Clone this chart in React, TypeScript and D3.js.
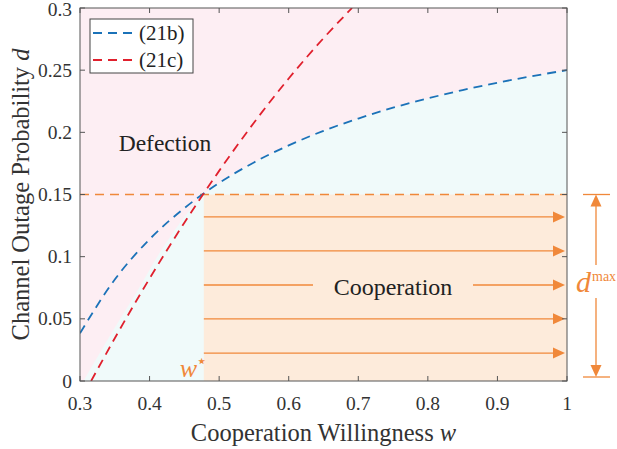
import React from "react";
import * as d3 from "d3";

const W = 617;
const H = 449;

// ---- data ----
const xTicks = [0.3, 0.4, 0.5, 0.6, 0.7, 0.8, 0.9, 1];
const yTicks = [0, 0.05, 0.1, 0.15, 0.2, 0.25, 0.3];
const xTickLabels = ["0.3", "0.4", "0.5", "0.6", "0.7", "0.8", "0.9", "1"];
const yTickLabels = ["0", "0.05", "0.1", "0.15", "0.2", "0.25", "0.3"];

// (21b) blue dashed curve
const curveB_w = [0.3, 0.35, 0.4, 0.45, 0.5, 0.55, 0.6, 0.65, 0.7, 0.75, 0.8, 0.85, 0.9, 0.95, 1.0];
const curveB_d = [0.0384, 0.0816, 0.114, 0.139, 0.1593, 0.1758, 0.1895, 0.2012, 0.2111, 0.2198, 0.2273, 0.234, 0.2399, 0.2452, 0.25];

// (21c) red dashed curve
const curveC_w = [0.316, 0.35, 0.4, 0.45, 0.5, 0.55, 0.6, 0.65, 0.691];
const curveC_d = [0, 0.0344, 0.0824, 0.1273, 0.169, 0.2077, 0.2433, 0.2757, 0.3];

// boundary of the cooperation (cyan) region left of w*
const boundary_w = [0.305, 0.33, 0.348, 0.386, 0.42, 0.45, 0.477];
const boundary_d = [0, 0.024, 0.041, 0.0759, 0.108, 0.132, 0.1496];

const wStar = 0.478;
const dMax = 0.15;
const arrowDs = [0.0225, 0.05, 0.0772, 0.1046, 0.132];

const legendLabels = ["(21b)", "(21c)"];

const COL_BLUE = "#1b72b8";
const COL_RED = "#e0202d";
const COL_ORANGE = "#f0883a";
const COL_PINK = "#fdeef3";
const COL_CYAN = "#f0fafa";
const COL_PEACH = "#fdebdb";
const FONT = "'Liberation Serif', 'Times New Roman', serif";

export default function App() {
  const left = 80, right = 567, top = 8, bottom = 381;
  const x = d3.scaleLinear().domain([0.3, 1]).range([left, right]);
  const y = d3.scaleLinear().domain([0, 0.3]).range([bottom, top]);

  const line = d3
    .line<[number, number]>()
    .x((p) => x(p[0]))
    .y((p) => y(p[1]))
    .curve(d3.curveMonotoneX);

  const bPts: [number, number][] = curveB_w.map((w, i) => [w, curveB_d[i]]);
  const cPts: [number, number][] = curveC_w.map((w, i) => [w, curveC_d[i]]);
  const bdPts: [number, number][] = boundary_w.map((w, i) => [w, boundary_d[i]]);

  // cyan region: boundary up to w*, then along blue curve to w=1, then down
  const blueRight: [number, number][] = [[0.477, 0.1496], ...bPts.filter((p) => p[0] > 0.477)];
  const cyanPts: [number, number][] = [...bdPts, ...blueRight.slice(1)];
  const cyanPath =
    line(cyanPts) + `L${x(1)},${y(0)}L${x(0.305)},${y(0)}Z`;

  const arrowHead = (xe: number, ye: number) =>
    `M${xe},${ye}L${xe - 12},${ye - 5.5}L${xe - 12},${ye + 5.5}Z`;

  const xEnd = x(1) - 2;
  const vx = 596;
  const vTop = y(dMax);
  const vBot = y(0) - 4;

  return (
    <div style={{ position: "absolute", left: 0, top: 0 }}>
      <svg width={W} height={H} style={{ display: "block", background: "#fff" }}>
        <defs>
          <clipPath id="plot">
            <rect x={left} y={top} width={right - left} height={bottom - top} />
          </clipPath>
        </defs>
        <g clipPath="url(#plot)">
          <rect x={left} y={top} width={right - left} height={bottom - top} fill={COL_PINK} />
          <path d={cyanPath} fill={COL_CYAN} />
          <rect
            x={x(wStar)}
            y={y(dMax)}
            width={x(1) - x(wStar)}
            height={y(0) - y(dMax)}
            fill={COL_PEACH}
          />
          {/* arrows */}
          {arrowDs.map((dv, i) => {
            const yy = y(dv);
            const isMid = i === 2;
            return (
              <g key={i}>
                {isMid ? (
                  <>
                    <line x1={x(wStar)} x2={313} y1={yy} y2={yy} stroke={COL_ORANGE} strokeWidth={1.3} />
                    <line x1={473} x2={xEnd - 10} y1={yy} y2={yy} stroke={COL_ORANGE} strokeWidth={1.3} />
                  </>
                ) : (
                  <line x1={x(wStar)} x2={xEnd - 10} y1={yy} y2={yy} stroke={COL_ORANGE} strokeWidth={1.3} />
                )}
                <path d={arrowHead(xEnd, yy)} fill={COL_ORANGE} />
              </g>
            );
          })}
          <line
            x1={left}
            x2={right}
            y1={y(dMax)}
            y2={y(dMax)}
            stroke={COL_ORANGE}
            strokeWidth={1.7}
            strokeDasharray="9,6"
          />
          <path d={line(bPts) || ""} fill="none" stroke={COL_BLUE} strokeWidth={1.8} strokeDasharray="9,6" />
          <path d={line(cPts) || ""} fill="none" stroke={COL_RED} strokeWidth={1.8} strokeDasharray="9,6" />
        </g>

        {/* frame */}
        <rect x={left} y={top} width={right - left} height={bottom - top} fill="none" stroke="#555" strokeWidth={1} />
        {xTicks.map((t, i) => (
          <g key={"xt" + i}>
            <line x1={x(t)} x2={x(t)} y1={bottom} y2={bottom - 5} stroke="#555" />
            <line x1={x(t)} x2={x(t)} y1={top} y2={top + 5} stroke="#555" />
            <text x={x(t)} y={410} textAnchor="middle" fontFamily={FONT} fontSize={19.5} fill="#333">
              {xTickLabels[i]}
            </text>
          </g>
        ))}
        {yTicks.map((t, i) => (
          <g key={"yt" + i}>
            <line x1={left} x2={left + 5} y1={y(t)} y2={y(t)} stroke="#555" />
            <line x1={right} x2={right - 5} y1={y(t)} y2={y(t)} stroke="#555" />
            <text x={72} y={Math.max(y(t) + 6.5, 16)} textAnchor="end" fontFamily={FONT} fontSize={19.5} fill="#333">
              {yTickLabels[i]}
            </text>
          </g>
        ))}

        {/* axis labels */}
        <text x={(left + right) / 2} y={441} textAnchor="middle" fontFamily={FONT} fontSize={24.5} fill="#333">
          Cooperation Willingness <tspan fontStyle="italic">w</tspan>
        </text>
        <text
          transform={`translate(29,${(top + bottom) / 2}) rotate(-90)`}
          textAnchor="middle"
          fontFamily={FONT}
          fontSize={24.5}
          fill="#333"
        >
          Channel Outage Probability <tspan fontStyle="italic">d</tspan>
        </text>

        {/* region labels */}
        <text x={165} y={151} textAnchor="middle" fontFamily={FONT} fontSize={23.5} fill="#222">
          Defection
        </text>
        <text x={393} y={295} textAnchor="middle" fontFamily={FONT} fontSize={24} fill="#222">
          Cooperation
        </text>

        {/* w* */}
        <text x={197} y={377} textAnchor="end" fontFamily={FONT} fontSize={26} fontStyle="italic" fill={COL_ORANGE}>
          w
        </text>
        <text x={196} y={367} fontFamily="DejaVu Sans" fontSize={18} fill={COL_ORANGE}>
          ⋆
        </text>

        {/* d max double arrow */}
        <line x1={583} x2={610} y1={vTop} y2={vTop} stroke={COL_ORANGE} strokeWidth={1.3} />
        <line x1={583} x2={610} y1={vBot} y2={vBot} stroke={COL_ORANGE} strokeWidth={1.3} />
        <line x1={vx} x2={vx} y1={vTop + 10} y2={265} stroke={COL_ORANGE} strokeWidth={1.3} />
        <line x1={vx} x2={vx} y1={298} y2={vBot - 10} stroke={COL_ORANGE} strokeWidth={1.3} />
        <path d={`M${vx},${vTop}L${vx - 5.5},${vTop + 12}L${vx + 5.5},${vTop + 12}Z`} fill={COL_ORANGE} />
        <path d={`M${vx},${vBot}L${vx - 5.5},${vBot - 12}L${vx + 5.5},${vBot - 12}Z`} fill={COL_ORANGE} />
        <text x={576} y={292} fontFamily={FONT} fontSize={30} fontStyle="italic" fill={COL_ORANGE}>
          d
        </text>
        <text x={592} y={281} fontFamily={FONT} fontSize={14} fill={COL_ORANGE}>
          max
        </text>

        {/* legend */}
        <rect x={90} y={19} width={103} height={54} fill="#fff" stroke="#444" strokeWidth={1} />
        {legendLabels.map((lab, i) => {
          const ly = 33 + i * 27;
          return (
            <g key={lab}>
              <line
                x1={93}
                x2={133}
                y1={ly}
                y2={ly}
                stroke={i === 0 ? COL_BLUE : COL_RED}
                strokeWidth={1.8}
                strokeDasharray="9,6"
              />
              <text x={139} y={ly + 7} fontFamily={FONT} fontSize={21} fill="#222">
                {lab}
              </text>
            </g>
          );
        })}
      </svg>
    </div>
  );
}
